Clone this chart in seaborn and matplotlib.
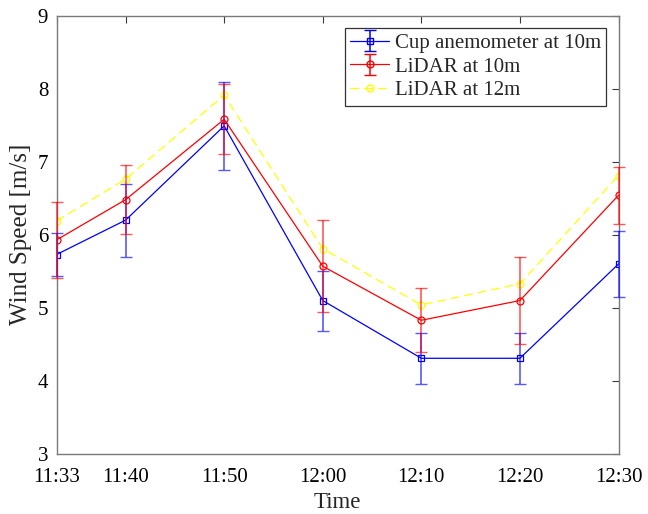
import numpy as np
import matplotlib
matplotlib.use("Agg")
import matplotlib.pyplot as plt
import seaborn as sns

# ---- data ----
time_labels = ['11:33', '11:40', '11:50', '12:00', '12:10', '12:20', '12:30']
minutes = [0, 7, 17, 27, 37, 47, 57]          # minutes after 11:33
cup_10m = [5.73, 6.20, 7.49, 5.10, 4.31, 4.31, 5.60]
cup_10m_err = [0.30, 0.50, 0.60, 0.41, 0.35, 0.35, 0.45]
lidar_10m = [5.93, 6.48, 7.58, 5.57, 4.83, 5.10, 6.54]
lidar_10m_err = [0.52, 0.47, 0.48, 0.63, 0.44, 0.60, 0.39]
lidar_12m = [6.19, 6.76, 7.91, 5.81, 5.04, 5.33, 6.81]
lidar_12m_err = [0.0, 0.0, 0.0, 0.0, 0.0, 0.0, 0.0]
series_names = ['Cup anemometer at 10m', 'LiDAR at 10m', 'LiDAR at 12m']
y_ticks = [3, 4, 5, 6, 7, 8, 9]

sns.set_style("white")
plt.rcParams['font.family'] = ['Liberation Serif', 'DejaVu Serif']

fig = plt.figure(figsize=(6.48, 5.14), dpi=100)
ax = fig.add_axes([0.0873, 0.1167, 0.9545 - 0.0873, 0.9698 - 0.1167])

dash = (0, (7, 4))
specs = [
    (cup_10m, cup_10m_err, '#0000ff', 's', '-', series_names[0], True),
    (lidar_10m, lidar_10m_err, '#ff0000', 'o', '-', series_names[1], True),
    (lidar_12m, lidar_12m_err, '#ffff00', 'o', dash, series_names[2], False),
]

handles = []
for vals, errs, c, m, ls, name, show_err in specs:
    sns.lineplot(x=minutes, y=vals, color=c, marker=m, markersize=5,
                 markerfacecolor='none', markeredgecolor=c, markeredgewidth=0.9,
                 linestyle=ls, linewidth=0.9, errorbar=None, ax=ax,
                 legend=False)
    if show_err:
        ax.errorbar(minutes, vals, yerr=errs, fmt='none', ecolor=c,
                    elinewidth=1.2, capsize=4, capthick=1.0, alpha=0.65,
                    clip_on=False, zorder=3)
        h = ax.errorbar([np.nan], [np.nan], yerr=[0.5], marker=m,
                        linestyle=ls, color=c, mfc='none', mec=c, ms=5,
                        lw=0.9, elinewidth=1.1, capsize=4, label=name)
    else:
        h = ax.errorbar([np.nan], [np.nan], marker=m, linestyle=ls, color=c,
                        mfc='none', mec=c, ms=5, lw=0.9, label=name)
    handles.append(h)

ax.set_xlim(minutes[0], minutes[-1])
ax.set_ylim(3, 9)
ax.set_xticks(minutes)
ax.set_xticklabels(time_labels)
ax.set_yticks(y_ticks)

for s in ax.spines.values():
    s.set_visible(True)
    s.set_color('#7a7a7a')
    s.set_linewidth(1.0)

ax.tick_params(axis='both', which='major', direction='in', length=5,
               width=0.8, color='#3a3a3a', labelsize=15, labelcolor='black',
               top=True, right=True)
ax.tick_params(axis='x', pad=10)
ax.tick_params(axis='y', pad=6)

ax.set_xlabel('Time', fontsize=16.5, labelpad=4)
ax.set_ylabel('Wind Speed [m/s]', fontsize=18, labelpad=4)

leg = ax.legend(handles=handles, labels=series_names, loc='upper right',
                fontsize=15, frameon=True, fancybox=False, framealpha=1,
                edgecolor='#333333', handlelength=1.9, handletextpad=0.25,
                labelspacing=0.2, borderpad=0.25, borderaxespad=0.6)
leg.get_frame().set_linewidth(0.9)

fig.savefig('out.png', dpi=100)
